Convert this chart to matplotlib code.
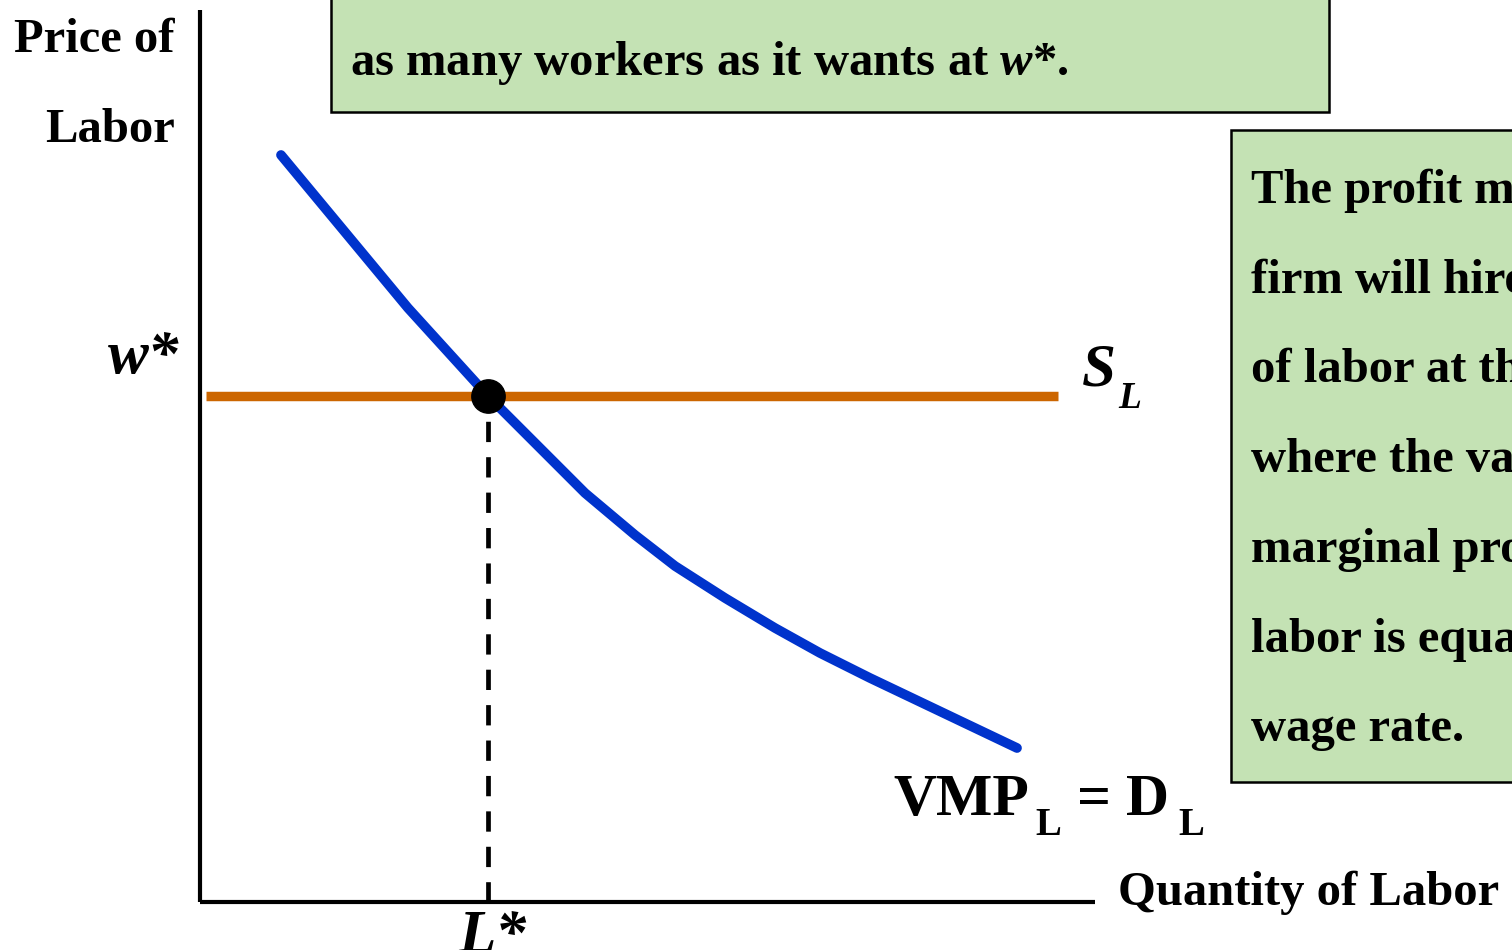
import matplotlib
matplotlib.use("Agg")
import matplotlib.pyplot as plt
from matplotlib.patches import Rectangle

# Labor market diagram (units: offset from axis origin)
demand_x = [81, 208, 288, 385, 435, 475, 525, 575, 620, 670, 817]
demand_y = [747, 594, 506, 409, 367, 336, 304, 274, 249, 224, 154]
supply_x = [6, 858]
wage = 506
labor_eq = 288

box_top_text = "as many workers as it wants at $w$*."
box_right_lines = ["The profit m", "firm will hire", "of labor at th", "where the va",
                   "marginal pro", "labor is equa", "wage rate."]

serif = "Liberation Serif"
plt.rcParams["mathtext.fontset"] = "custom"
plt.rcParams["mathtext.it"] = "Liberation Serif:italic:bold"
plt.rcParams["mathtext.rm"] = "Liberation Serif:bold"

fig = plt.figure(figsize=(15.12, 9.5), dpi=100)
ax = fig.add_axes([0, 0, 1, 1])
ax.set_xlim(-200, 1312)
ax.set_ylim(-48, 902)
ax.axis("off")

# axes lines
ax.plot([0, 895], [0, 0], color="black", lw=3, solid_capstyle="butt")
ax.plot([0, 0], [0, 892], color="black", lw=3, solid_capstyle="butt")

# curves
ax.plot(supply_x, [wage, wage], color="#CC6600", lw=6.8, solid_capstyle="butt")
ax.plot(demand_x, demand_y, color="#0033CC", lw=7, solid_capstyle="round")
ax.plot([labor_eq, labor_eq], [0, wage], color="black", lw=3.4, ls=(0, (4.3, 3.2)))
ax.plot([labor_eq], [wage], "o", color="black", ms=24)

# text boxes
ax.add_patch(Rectangle((131, 790), 998, 130, facecolor="#C4E2B4", edgecolor="black", lw=1.8))
ax.add_patch(Rectangle((1031, 120), 400, 652, facecolor="#C4E2B4", edgecolor="black", lw=1.8))

ax.text(150, 827, box_top_text, fontsize=35, fontweight="bold", family=serif, va="baseline")
for i, line in enumerate(box_right_lines):
    ax.text(1051, 699 - i * 89.7, line, fontsize=35, fontweight="bold", family=serif, va="baseline")

# axis labels
ax.text(-25, 850, "Price of", fontsize=35, fontweight="bold", family=serif, ha="right", va="baseline")
ax.text(-25, 760, "Labor", fontsize=35, fontweight="bold", family=serif, ha="right", va="baseline")
ax.text(918, -3, "Quantity of Labor", fontsize=35, fontweight="bold", family=serif, va="baseline")
ax.text(-92, 529, "w*", fontsize=44, fontweight="bold", style="italic", family=serif, va="baseline")
ax.text(258, -50, "L*", fontsize=44, fontweight="bold", style="italic", family=serif, va="baseline")

# curve labels
ax.text(882, 516, "S", fontsize=44, fontweight="bold", style="italic", family=serif, va="baseline")
ax.text(918, 494, "L", fontsize=27, fontweight="bold", style="italic", family=serif, va="baseline")
ax.text(693, 87, "VMP", fontsize=43, fontweight="bold", family=serif, va="baseline")
ax.text(835, 67, "L", fontsize=28, fontweight="bold", family=serif, va="baseline")
ax.text(877, 87, "= D", fontsize=43, fontweight="bold", family=serif, va="baseline")
ax.text(978, 67, "L", fontsize=28, fontweight="bold", family=serif, va="baseline")

fig.savefig("out.png", dpi=100)
